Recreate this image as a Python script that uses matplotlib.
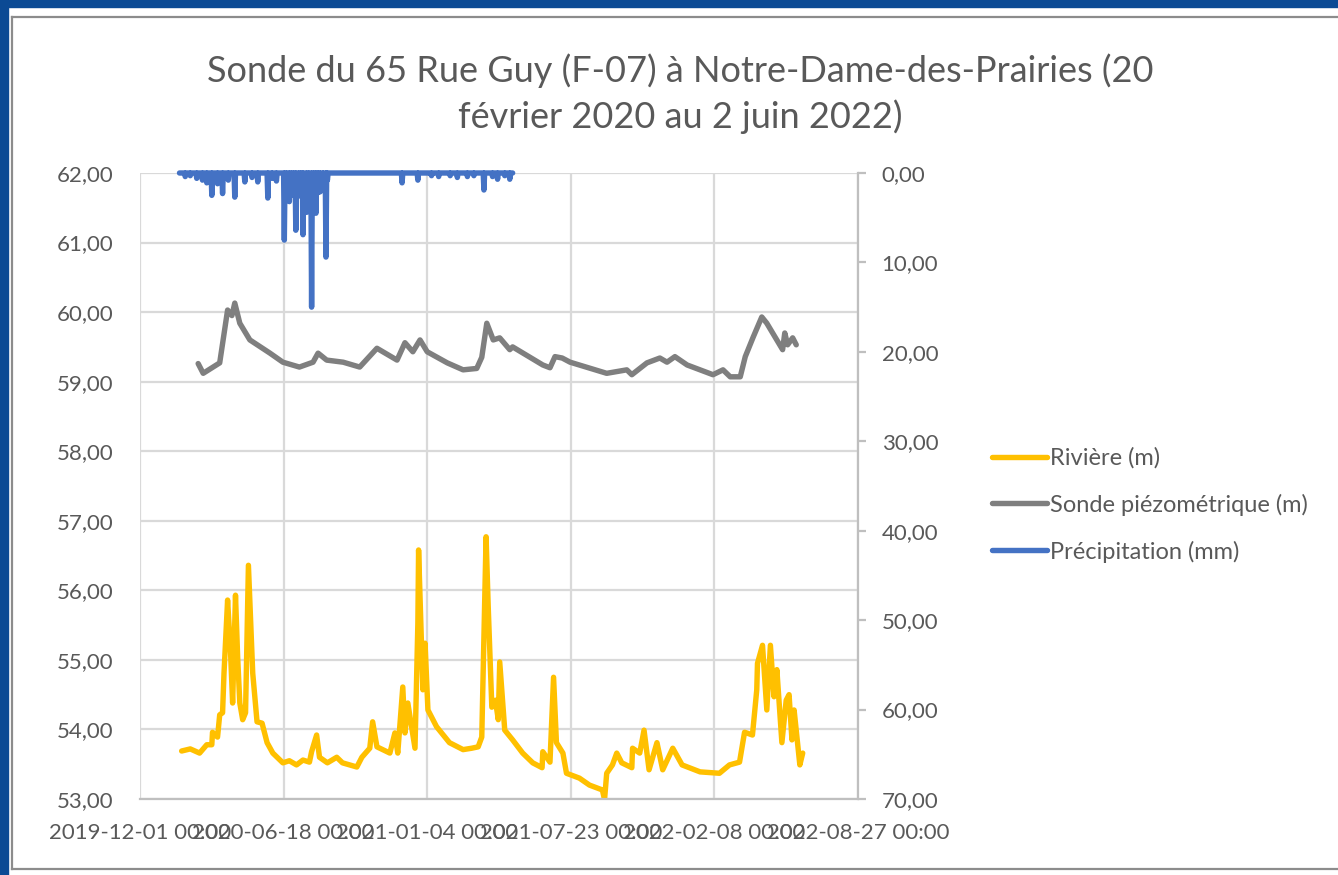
import matplotlib
matplotlib.use("Agg")
import matplotlib.pyplot as plt
from matplotlib.lines import Line2D
from matplotlib.patches import Rectangle
import pandas as pd

plt.rcParams['font.family'] = ['Lato', 'DejaVu Sans']

txt_color = '#595959'
c_river = '#FFC000'
c_sonde = '#7F7F7F'
c_precip = '#4472C4'

# niveau de la riviere (m)
river_dates = ['2020-01-28', '2020-02-09', '2020-02-22', '2020-03-03', '2020-03-10', '2020-03-11',
               '2020-03-18', '2020-03-21', '2020-03-25', '2020-03-27', '2020-04-01', '2020-04-05',
               '2020-04-08', '2020-04-12', '2020-04-15', '2020-04-18', '2020-04-22', '2020-04-26',
               '2020-04-30', '2020-05-06', '2020-05-12', '2020-05-19', '2020-05-26', '2020-06-03',
               '2020-06-17', '2020-06-26', '2020-07-06', '2020-07-15', '2020-07-24', '2020-07-27',
               '2020-08-03', '2020-08-07', '2020-08-18', '2020-08-31', '2020-09-08', '2020-09-28',
               '2020-10-05', '2020-10-16', '2020-10-20', '2020-10-26', '2020-11-13', '2020-11-20',
               '2020-11-24', '2020-12-01', '2020-12-04', '2020-12-08', '2020-12-18', '2020-12-22',
               '2020-12-23', '2020-12-29', '2021-01-01', '2021-01-05', '2021-01-17', '2021-02-04',
               '2021-02-23', '2021-03-07', '2021-03-16', '2021-03-21', '2021-03-27', '2021-03-30',
               '2021-04-04', '2021-04-09', '2021-04-13', '2021-04-15', '2021-04-22', '2021-05-03',
               '2021-05-17', '2021-05-31', '2021-06-13', '2021-06-14', '2021-06-24', '2021-06-29',
               '2021-07-03', '2021-07-12', '2021-07-17', '2021-08-04', '2021-08-18', '2021-09-05',
               '2021-09-08', '2021-09-11', '2021-09-19', '2021-09-25', '2021-10-02', '2021-10-16',
               '2021-10-17', '2021-10-27', '2021-11-02', '2021-11-09', '2021-11-20', '2021-11-28',
               '2021-12-12', '2021-12-25', '2022-01-19', '2022-02-15', '2022-03-01', '2022-03-15',
               '2022-03-22', '2022-04-02', '2022-04-08', '2022-04-09', '2022-04-16', '2022-04-22',
               '2022-04-27', '2022-05-02', '2022-05-06', '2022-05-13', '2022-05-19', '2022-05-23',
               '2022-05-27', '2022-05-30', '2022-06-07', '2022-06-11']
river_vals = [53.69, 53.72, 53.66, 53.78, 53.78, 53.96,
              53.89, 54.21, 54.24, 54.81, 55.86, 55.14,
              54.38, 55.93, 55.04, 54.38, 54.14, 54.24,
              56.36, 54.81, 54.11, 54.09, 53.81, 53.66,
              53.52, 53.55, 53.49, 53.56, 53.53, 53.68,
              53.92, 53.60, 53.52, 53.60, 53.52, 53.46,
              53.60, 53.73, 54.11, 53.75, 53.66, 53.95,
              53.66, 54.61, 53.95, 54.38, 53.73, 55.53,
              56.58, 54.57, 55.24, 54.28, 54.04, 53.81,
              53.71, 53.73, 53.75, 53.89, 56.77, 55.76,
              54.32, 54.42, 54.14, 54.97, 53.99, 53.85,
              53.66, 53.52, 53.45, 53.68, 53.53, 54.75,
              53.81, 53.66, 53.37, 53.30, 53.20, 53.13,
              52.99, 53.37, 53.49, 53.66, 53.52, 53.45,
              53.73, 53.66, 53.99, 53.42, 53.81, 53.42,
              53.73, 53.49, 53.39, 53.37, 53.49, 53.53,
              53.96, 53.92, 54.57, 54.95, 55.21, 54.28,
              55.21, 54.47, 54.86, 53.81, 54.42, 54.50,
              53.85, 54.28, 53.49, 53.66]

# sonde piezometrique (m)
sonde_dates = ['2020-02-20', '2020-02-27', '2020-03-21', '2020-04-01', '2020-04-07', '2020-04-11',
               '2020-04-18', '2020-05-02', '2020-05-30', '2020-06-17', '2020-07-10', '2020-07-29',
               '2020-08-05', '2020-08-17', '2020-09-09', '2020-10-02', '2020-10-26', '2020-11-23',
               '2020-12-04', '2020-12-15', '2020-12-25', '2021-01-04', '2021-02-01', '2021-02-23',
               '2021-03-14', '2021-03-21', '2021-03-28', '2021-04-06', '2021-04-15', '2021-04-29',
               '2021-05-03', '2021-06-14', '2021-06-24', '2021-07-01', '2021-07-11', '2021-07-22',
               '2021-09-11', '2021-10-09', '2021-10-16', '2021-11-06', '2021-11-24', '2021-12-04',
               '2021-12-15', '2022-01-01', '2022-02-06', '2022-02-20', '2022-03-02', '2022-03-16',
               '2022-03-23', '2022-04-03', '2022-04-15', '2022-04-22', '2022-05-14', '2022-05-17',
               '2022-05-21', '2022-05-28', '2022-06-02']
sonde_vals = [59.26, 59.12, 59.27, 60.03, 59.95, 60.13,
              59.84, 59.60, 59.41, 59.28, 59.21, 59.28,
              59.41, 59.31, 59.28, 59.21, 59.48, 59.31,
              59.56, 59.43, 59.60, 59.43, 59.27, 59.17,
              59.19, 59.35, 59.84, 59.60, 59.63, 59.46,
              59.50, 59.24, 59.20, 59.36, 59.34, 59.28,
              59.12, 59.17, 59.10, 59.27, 59.34, 59.28,
              59.36, 59.24, 59.10, 59.17, 59.07, 59.07,
              59.36, 59.64, 59.93, 59.84, 59.46, 59.70,
              59.53, 59.63, 59.53]

# precipitation (mm), jours de pluie; 0 les autres jours
precip_start = '2020-01-25'
precip_end = '2021-05-03'
rain_dates = ['2020-02-02', '2020-02-09', '2020-02-18', '2020-02-26', '2020-03-03', '2020-03-10',
              '2020-03-18', '2020-03-25', '2020-04-02', '2020-04-11', '2020-04-25', '2020-05-05',
              '2020-05-13', '2020-05-27', '2020-06-02', '2020-06-08', '2020-06-19', '2020-06-22',
              '2020-06-26', '2020-06-29', '2020-07-02', '2020-07-05', '2020-07-09', '2020-07-12',
              '2020-07-15', '2020-07-20', '2020-07-23', '2020-07-27', '2020-07-30', '2020-08-02',
              '2020-08-05', '2020-08-08', '2020-08-12', '2020-08-16', '2020-08-18', '2020-11-30',
              '2020-12-22', '2021-01-10', '2021-01-20', '2021-02-05', '2021-02-15', '2021-03-01',
              '2021-03-10', '2021-03-24', '2021-04-05', '2021-04-12', '2021-04-22', '2021-04-29']
rain_vals = [0.4, 0.3, 0.6, 0.8, 1.1, 2.5,
             1.2, 2.3, 0.8, 2.7, 1.0, 0.5,
             1.0, 2.8, 0.6, 0.9, 7.5, 2.0,
             3.2, 2.5, 1.8, 6.4, 2.2, 2.6,
             6.9, 4.4, 2.4, 15.0, 2.0, 4.5,
             2.2, 2.1, 1.5, 9.4, 0.8, 1.1,
             0.8, 0.3, 0.4, 0.3, 0.5, 0.4,
             0.3, 1.9, 0.4, 0.7, 0.3, 0.7]

x_ticks = ['2019-12-01', '2020-06-18', '2021-01-04', '2021-07-23', '2022-02-08', '2022-08-27']
left_ticks = [53, 54, 55, 56, 57, 58, 59, 60, 61, 62]
right_ticks = [0, 10, 20, 30, 40, 50, 60, 70]

title = "Sonde du 65 Rue Guy (F-07) à Notre-Dame-des-Prairies (20\nfévrier 2020 au 2 juin 2022)"


def fmt_fr(v):
    return f"{v:.2f}".replace('.', ',')


river = pd.Series(river_vals, index=pd.to_datetime(river_dates))
sonde = pd.Series(sonde_vals, index=pd.to_datetime(sonde_dates))
precip = pd.Series(0.0, index=pd.date_range(precip_start, precip_end, freq='D'))
precip[pd.to_datetime(rain_dates)] = rain_vals

W, H = 1338, 875
fig = plt.figure(figsize=(W / 100, H / 100), dpi=100)
fig.patch.set_facecolor('white')

# cadre bleu + bordure grise de la fenetre
fig.patches.append(Rectangle((0, 1 - 7 / H), 1, 7 / H, transform=fig.transFigure, color='#0b4a94', zorder=0))
fig.patches.append(Rectangle((0, 0), 8 / W, 1, transform=fig.transFigure, color='#0b4a94', zorder=0))
fig.lines.append(Line2D([12 / W, 1], [1 - 17 / H, 1 - 17 / H], transform=fig.transFigure, color='#8c8c8c', lw=1.6))
fig.lines.append(Line2D([12 / W, 12 / W], [1 - 17 / H, 1 - 869 / H], transform=fig.transFigure, color='#8c8c8c', lw=1.6))
fig.lines.append(Line2D([12 / W, 1], [1 - 869 / H, 1 - 869 / H], transform=fig.transFigure, color='#8c8c8c', lw=1.6))

ax = fig.add_axes([140 / W, 1 - 799 / H, 718 / W, 626 / H])
ax2 = ax.twinx()

lw = 3.9
l1, = ax.plot(river.index, river.values, color=c_river, lw=lw, solid_joinstyle='round',
              solid_capstyle='round', label='Rivière (m)')
l2, = ax.plot(sonde.index, sonde.values, color=c_sonde, lw=lw, solid_joinstyle='round',
              solid_capstyle='round', label='Sonde piézométrique (m)')
l3, = ax2.plot(precip.index, precip.values, color=c_precip, lw=lw, solid_joinstyle='round',
               solid_capstyle='round', label='Précipitation (mm)', clip_on=False)

xt = pd.to_datetime(x_ticks)
ax.set_xlim(xt[0], xt[-1])
ax.set_xticks(xt)
ax.set_xticklabels([d.strftime('%Y-%m-%d 00:00') for d in xt])
ax.set_ylim(53, 62)
ax.set_yticks(left_ticks)
ax.set_yticklabels([fmt_fr(v) for v in left_ticks])
ax2.set_ylim(70, 0)
ax2.set_yticks(right_ticks)
ax2.set_yticklabels([fmt_fr(v) for v in right_ticks])

ax.grid(True, color='#d9d9d9', lw=1.6)
ax.set_axisbelow(True)
for a in (ax, ax2):
    for s in a.spines.values():
        s.set_visible(False)
ax.spines['bottom'].set_visible(True)
ax.spines['bottom'].set_color('#bfbfbf')
ax.spines['bottom'].set_linewidth(1.6)
ax2.spines['right'].set_visible(True)
ax2.spines['right'].set_color('#bfbfbf')
ax2.spines['right'].set_linewidth(1.6)

ax.tick_params(axis='y', length=0, pad=19, labelsize=16, labelcolor=txt_color)
ax.tick_params(axis='x', length=0, pad=17, labelsize=16, labelcolor=txt_color)
ax2.tick_params(axis='y', length=6, width=1.6, color='#bfbfbf', pad=11, labelsize=16, labelcolor=txt_color)

fig.text(680 / W, 1 - 94 / H, title, ha='center', va='center', fontsize=26, color=txt_color, linespacing=1.4)

leg = fig.legend(handles=[l1, l2, l3], loc='center left', bbox_to_anchor=(971 / W, 1 - 505 / H),
                 frameon=False, fontsize=17, handlelength=2.3, handletextpad=0.15, labelspacing=1.05,
                 labelcolor=txt_color)

fig.savefig('out.png', dpi=100, facecolor='white')
